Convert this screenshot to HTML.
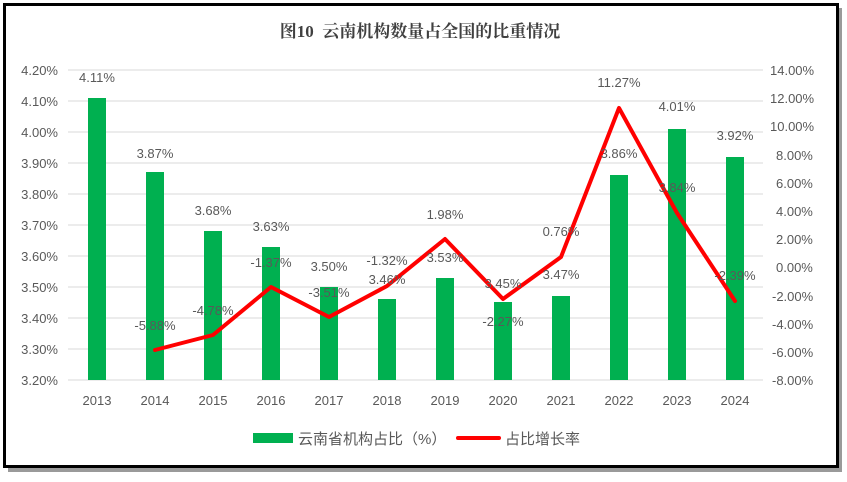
<!DOCTYPE html>
<html><head><meta charset="utf-8"><style>
html,body{margin:0;padding:0;background:#fff;}
svg text{font-family:"Liberation Sans","Noto Sans CJK SC",sans-serif;fill:#595959;font-size:13px;}
</style></head><body>
<svg width="847" height="477" xmlns="http://www.w3.org/2000/svg">
<rect x="0" y="0" width="847" height="477" fill="#fff"/>
<rect x="8" y="8" width="834" height="464" fill="#9a9a9a"/>
<rect x="4.5" y="4.5" width="833" height="462" fill="#fff" stroke="#000" stroke-width="3"/>
<text x="420" y="37" text-anchor="middle" style="white-space:pre;font-family:'Liberation Serif','Noto Serif CJK SC',serif;font-weight:bold;font-size:17px;fill:#404040">图10  云南机构数量占全国的比重情况</text>
<g stroke="#d9d9d9" stroke-width="1">
<line x1="68" x2="763" y1="70" y2="70"/><line x1="68" x2="763" y1="101" y2="101"/><line x1="68" x2="763" y1="132" y2="132"/><line x1="68" x2="763" y1="163" y2="163"/><line x1="68" x2="763" y1="194" y2="194"/><line x1="68" x2="763" y1="225" y2="225"/><line x1="68" x2="763" y1="256" y2="256"/><line x1="68" x2="763" y1="287" y2="287"/><line x1="68" x2="763" y1="318" y2="318"/><line x1="68" x2="763" y1="349" y2="349"/><line x1="68" x2="763" y1="380" y2="380"/>
</g>
<g text-anchor="end">
<text x="58" y="75">4.20%</text><text x="58" y="106">4.10%</text><text x="58" y="137">4.00%</text><text x="58" y="168">3.90%</text><text x="58" y="199">3.80%</text><text x="58" y="230">3.70%</text><text x="58" y="261">3.60%</text><text x="58" y="292">3.50%</text><text x="58" y="323">3.40%</text><text x="58" y="354">3.30%</text><text x="58" y="385">3.20%</text>
</g>
<g text-anchor="start">
<text x="770" y="75">14.00%</text><text x="770" y="103">12.00%</text><text x="770" y="131">10.00%</text><text x="776" y="160">8.00%</text><text x="776" y="188">6.00%</text><text x="776" y="216">4.00%</text><text x="776" y="244">2.00%</text><text x="776" y="272">0.00%</text><text x="772" y="301">-2.00%</text><text x="772" y="329">-4.00%</text><text x="772" y="357">-6.00%</text><text x="772" y="385">-8.00%</text>
</g>
<g fill="#00b050">
<rect x="88" y="98" width="18" height="282"/>
<rect x="146" y="172" width="18" height="208"/>
<rect x="204" y="231" width="18" height="149"/>
<rect x="262" y="247" width="18" height="133"/>
<rect x="320" y="287" width="18" height="93"/>
<rect x="378" y="299" width="18" height="81"/>
<rect x="436" y="278" width="18" height="102"/>
<rect x="494" y="302" width="18" height="78"/>
<rect x="552" y="296" width="18" height="84"/>
<rect x="610" y="175" width="18" height="205"/>
<rect x="668" y="129" width="18" height="251"/>
<rect x="726" y="157" width="18" height="223"/>
</g>
<polyline fill="none" stroke="#ff0000" stroke-width="4" stroke-linejoin="round" stroke-linecap="round" points="155,350 213,335 271,287 329,317 387,286 445,239 503,299 561,257 619,108 677,213 735,301"/>
<g text-anchor="middle">
<text x="97" y="82">4.11%</text><text x="155" y="158">3.87%</text><text x="213" y="215">3.68%</text><text x="271" y="231">3.63%</text><text x="329" y="271">3.50%</text><text x="387" y="284">3.46%</text><text x="445" y="262">3.53%</text><text x="503" y="288">3.45%</text><text x="561" y="279">3.47%</text><text x="619" y="158">3.86%</text><text x="677" y="111">4.01%</text><text x="735" y="140">3.92%</text>
<text x="155" y="330">-5.88%</text><text x="213" y="315">-4.78%</text><text x="271" y="267">-1.37%</text><text x="329" y="297">-3.51%</text><text x="387" y="265">-1.32%</text><text x="445" y="219">1.98%</text><text x="503" y="326">-2.27%</text><text x="561" y="236">0.76%</text><text x="619" y="87">11.27%</text><text x="677" y="192">3.84%</text><text x="735" y="280">-2.39%</text>
<text x="97" y="405">2013</text><text x="155" y="405">2014</text><text x="213" y="405">2015</text><text x="271" y="405">2016</text><text x="329" y="405">2017</text><text x="387" y="405">2018</text><text x="445" y="405">2019</text><text x="503" y="405">2020</text><text x="561" y="405">2021</text><text x="619" y="405">2022</text><text x="677" y="405">2023</text><text x="735" y="405">2024</text>
</g>
<rect x="253" y="433" width="40" height="10" fill="#00b050"/>
<text x="298" y="444" style="font-size:15px">云南省机构占比（%）</text>
<line x1="458" x2="499" y1="438" y2="438" stroke="#ff0000" stroke-width="4" stroke-linecap="round"/>
<text x="505" y="444" style="font-size:15px">占比增长率</text>
</svg>
</body></html>
